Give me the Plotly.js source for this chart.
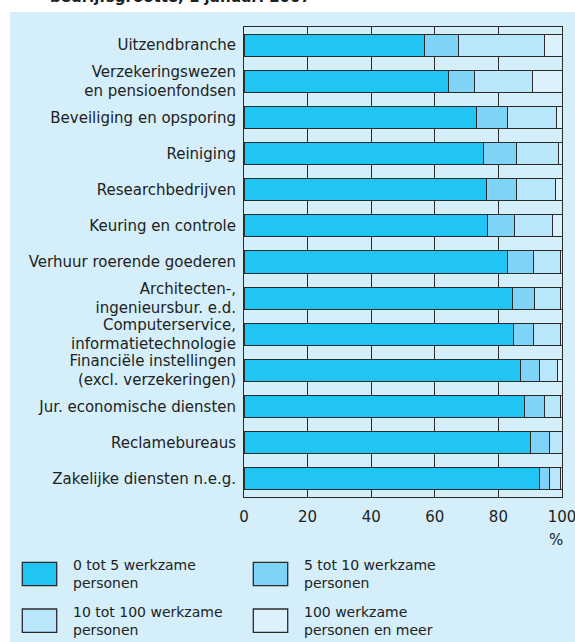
<!DOCTYPE html>
<html>
<head>
<meta charset="utf-8">
<script src="https://cdn.plot.ly/plotly-3.0.1.min.js"></script>
<style>
html,body{margin:0;padding:0;background:#ffffff;}
#chart{width:575px;height:642px;}
</style>
</head>
<body>
<div id="chart"></div>
<script>
const titleText = "bedrijfsgrootte, 1 januari 2007";

const categories = [
  "Uitzendbranche",
  "Verzekeringswezen<br>en pensioenfondsen",
  "Beveiliging en opsporing",
  "Reiniging",
  "Researchbedrijven",
  "Keuring en controle",
  "Verhuur roerende goederen",
  "Architecten-,<br>ingenieursbur. e.d.",
  "Computerservice,<br>informatietechnologie",
  "Financiële instellingen<br>(excl. verzekeringen)",
  "Jur. economische diensten",
  "Reclamebureaus",
  "Zakelijke diensten n.e.g."
];

const seriesNames = [
  "0 tot 5 werkzame<br>personen",
  "5 tot 10 werkzame<br>personen",
  "10 tot 100 werkzame<br>personen",
  "100 werkzame<br>personen en meer"
];

const size0to5    = [56.7, 64.4, 73.0, 75.2, 76.2, 76.6, 82.9, 84.3, 84.7, 86.9, 88.2, 90.1, 92.9];
const size5to10   = [10.9,  8.1,  9.9, 10.4,  9.4,  8.6,  8.1,  7.2,  6.4,  6.0,  6.4,  6.0,  3.2];
const size10to100 = [27.0, 18.2, 15.4, 13.2, 12.2, 11.8,  8.6,  8.1,  8.5,  5.7,  5.0,  3.9,  3.5];
const size100plus = [ 5.4,  9.3,  1.7,  1.2,  2.2,  3.0,  0.4,  0.4,  0.4,  1.4,  0.4,  0.0,  0.4];

const xTickVals = [0, 20, 40, 60, 80, 100];
const xTickText = ["0", "20", "40", "60", "80", "100"];
const unitLabel = "%";

const colors = ["#21c5f4", "#7fd3f7", "#b8e6fa", "#dcf1fc"];
const panelColor = "#d4eefa";
const lineColor = "#2b2b2b";
const textColor = "#222222";
const FONT = "DejaVu Sans, Liberation Sans, Arial, sans-serif";

const W = 575, H = 642;
const M = {l: 244, r: 13, t: 27, b: 145};
const PW = W - M.l - M.r, PH = H - M.t - M.b;
const px = x => (x - M.l) / PW;
const py = y => (H - M.b - y) / PH;

const allSeries = [size0to5, size5to10, size10to100, size100plus];
const traces = allSeries.map((vals, i) => ({
  type: "bar",
  orientation: "h",
  name: seriesNames[i],
  y: categories,
  x: vals,
  marker: {color: colors[i], line: {color: lineColor, width: 1}},
  hoverinfo: "skip",
  showlegend: false
}));

const shapes = [{
  type: "rect", xref: "paper", yref: "paper", layer: "below",
  x0: px(10), x1: px(580), y0: py(650), y1: py(12),
  fillcolor: panelColor, line: {width: 0}
}];
const annotations = [];

const legendPos = [
  {bx: 22.3, by: 562.3},
  {bx: 253.3, by: 562.3},
  {bx: 22.3, by: 609},
  {bx: 253.3, by: 609}
];
const boxW = 34.4, boxH = 23.4;
legendPos.forEach((p, i) => {
  shapes.push({
    type: "rect", xref: "paper", yref: "paper", layer: "above",
    x0: px(p.bx), x1: px(p.bx + boxW), y0: py(p.by + boxH), y1: py(p.by),
    fillcolor: colors[i], line: {color: lineColor, width: 1.3}
  });
  annotations.push({
    xref: "paper", yref: "paper", x: px(p.bx + boxW + 14), y: py(p.by + boxH / 2),
    xanchor: "left", yanchor: "middle", align: "left", showarrow: false,
    text: seriesNames[i], font: {family: FONT, size: 14, color: textColor}
  });
});

annotations.push({
  xref: "paper", yref: "paper", x: px(556), y: py(540),
  xanchor: "center", yanchor: "middle", showarrow: false,
  text: unitLabel, font: {family: FONT, size: 15, color: textColor}
});

annotations.push({
  xref: "paper", yref: "paper", x: px(48), y: py(-3),
  xanchor: "left", yanchor: "middle", showarrow: false,
  text: "<b>" + titleText + "</b>", font: {family: FONT, size: 15, color: textColor}
});

const layout = {
  width: W, height: H,
  margin: M,
  paper_bgcolor: "#ffffff",
  plot_bgcolor: "#ffffff",
  barmode: "stack",
  bargap: 0.39,
  showlegend: false,
  hovermode: false,
  font: {family: FONT, size: 15, color: textColor},
  xaxis: {
    range: [0, 100], tickvals: xTickVals, ticktext: xTickText,
    showgrid: true, gridcolor: lineColor, gridwidth: 1,
    zeroline: false, showline: true, mirror: true, linecolor: lineColor, linewidth: 1,
    ticks: "", ticklabelstandoff: 6, automargin: false, ticklabeloverflow: "allow",
    tickfont: {family: FONT, size: 15, color: textColor}, fixedrange: true
  },
  yaxis: {
    type: "category", autorange: "reversed",
    showgrid: false, zeroline: false, showline: true, mirror: true,
    linecolor: lineColor, linewidth: 1,
    ticks: "", ticklabelstandoff: 4, automargin: false,
    tickfont: {family: FONT, size: 15, color: textColor}, fixedrange: true
  },
  shapes: shapes,
  annotations: annotations
};

Plotly.newPlot("chart", traces, layout, {displayModeBar: false, staticPlot: true});
</script>
</body>
</html>
